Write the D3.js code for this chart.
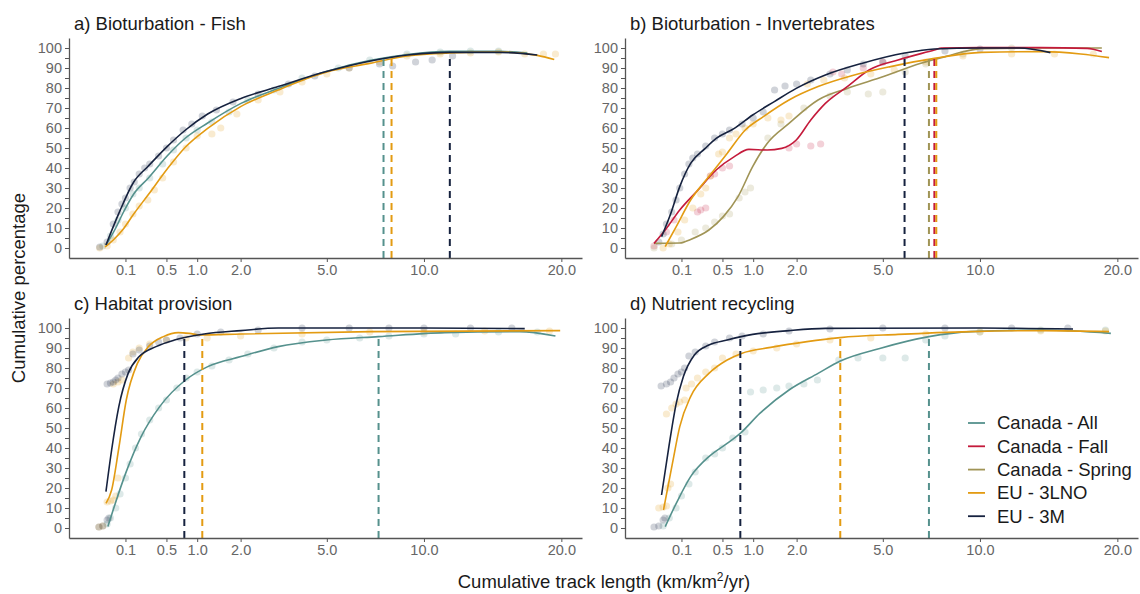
<!DOCTYPE html>
<html><head><meta charset="utf-8">
<script src="https://cdn.jsdelivr.net/npm/d3@7"></script>
<style>
body{margin:0;background:#fff}
text{font-family:"Liberation Sans",Arial,Helvetica,sans-serif}
</style>
</head><body>
<svg id="chart" width="1140" height="594"></svg>
<script>
// ---------------- DATA ----------------
const seriesNames  = ["Canada - All","Canada - Fall","Canada - Spring","EU - 3LNO","EU - 3M"];
const seriesColors = ["#55918d","#c41a3b","#a09456","#e39b12","#16223f"];
const panelTitles  = ["a) Bioturbation - Fish","b) Bioturbation - Invertebrates","c) Habitat provision","d) Nutrient recycling"];
const xTickValues  = [0.1,0.5,1,2,5,10,20];
const xTickLabels  = ["0.1","0.5","1.0","2.0","5.0","10.0","20.0"];
const yTickValues  = [0,10,20,30,40,50,60,70,80,90,100];
const yMinorTicks  = [5,15,25,35,45,55,65,75,85,95];

// smoothed curves: [track length, cumulative %]
// a) Bioturbation - Fish
const fishAll  = [[0.017,1.5],[0.05,10],[0.083,17],[0.156,27],[0.286,35],[0.509,46],[0.79,55],[1.21,62.5],[2.01,72.3],[3.14,79.8],[4.98,88.3],[7.04,93.8],[9.03,96.7],[11.6,98.3],[15.1,98.3],[17.2,97.5]];
const fish3LNO = [[0.015,0.5],[0.04,4],[0.083,9],[0.156,17],[0.29,27],[0.51,39.5],[0.79,50.5],[1.21,59.8],[2.0,70.7],[3.14,79],[5.0,88],[7.0,92.3],[9.0,96],[11.6,97.5],[15,98],[18,96.3],[19.4,94.2]];
const fish3M   = [[0.017,1.5],[0.064,17.3],[0.156,33],[0.286,41],[0.509,50.7],[0.79,59],[1.21,67],[2.01,74.8],[3.14,80.7],[4.98,88.2],[7.04,93.5],[9.03,96.5],[11.6,97.8],[15.1,97.8],[18.0,96.5]];
// b) Bioturbation - Invertebrates
const invFall   = [[0.003,2.3],[0.026,9],[0.09,19],[0.225,29],[0.419,39],[0.673,45.7],[0.92,49.3],[1.284,49],[1.62,49.8],[1.99,54],[2.4,64],[2.85,72.3],[3.6,80.7],[4.43,89],[5.67,94],[7.44,99],[7.82,100],[10,100.2],[14,100.2],[17.5,99.8],[18.7,98.2]];
const invSpring = [[0.003,2.3],[0.09,2.5],[0.163,4.3],[0.334,9],[0.513,15.7],[0.732,25.7],[0.99,40.7],[1.284,52.3],[1.8,62.3],[2.62,74],[3.6,79.8],[5.03,85.7],[6.71,92.3],[8.02,95.7],[10.1,99.7],[14,100],[18.7,100]];
const inv3LNO   = [[0.026,0.7],[0.071,10.7],[0.163,24],[0.334,35.7],[0.565,47.3],[0.855,59],[1.205,65.7],[1.8,74],[2.62,80.7],[3.86,86.5],[5.34,90.7],[7.44,94.8],[10.1,97.8],[14.2,98.2],[17,97],[19.3,95.2]];
const inv3M     = [[0.016,5.7],[0.046,17.3],[0.09,30.7],[0.163,42.3],[0.295,49.8],[0.419,54.8],[0.673,59.8],[0.99,66.5],[1.444,73.2],[1.99,79.8],[2.85,86.5],[4.14,92.3],[5.97,97.5],[7.44,99.5],[10,100],[12.5,100],[14.7,97.7]];
// c) Habitat provision
const habAll  = [[0.022,0.7],[0.048,12.3],[0.105,28.2],[0.217,45.7],[0.413,60.7],[0.791,74],[1.212,80.7],[2.01,85.7],[3.14,90.7],[4.98,94],[7.44,95.7],[11.3,97.7],[16.6,98.2],[19.5,96]];
const hab3LNO = [[0.017,12.3],[0.034,19],[0.064,40],[0.105,64],[0.185,82.3],[0.287,90.7],[0.46,95.7],[0.671,97.7],[0.856,97.3],[1.06,96.5],[2.01,97],[7.06,98.2],[19.9,98.7]];
const hab3M   = [[0.017,18.2],[0.034,39],[0.064,60.7],[0.117,77.3],[0.2,85.7],[0.369,90.7],[0.614,94],[1.137,97],[2.01,98.7],[3.14,100],[10,100],[17,99.7]];
// d) Nutrient recycling
const nutAll  = [[0.026,0.7],[0.071,12.3],[0.163,25.7],[0.334,35.7],[0.565,42.3],[0.768,47.3],[1.13,57.3],[1.8,69],[2.62,77.3],[3.35,83.5],[4.87,89.8],[7.16,95.7],[9.45,98.2],[14.2,99],[19.45,97.3]];
const nut3LNO = [[0.021,9],[0.053,32.3],[0.09,50.7],[0.163,65.7],[0.334,77.3],[0.565,84],[0.79,87.3],[1.362,90.3],[2.29,93.2],[3.35,95.2],[5.67,96.8],[9.45,98.2],[14.2,98.7],[19.3,98.2]];
const nut3M   = [[0.016,16.5],[0.0386,40.7],[0.071,62.3],[0.112,75.7],[0.193,86.5],[0.334,91.5],[0.565,94],[0.99,96.8],[1.8,98.7],[2.85,99.8],[10,100],[16.4,99.5]];

// raw cumulative points (faint)
const fishAllPts  = [[0.01,1],[0.03,6],[0.06,14],[0.1,20],[0.15,27],[0.2,30],[0.3,35],[0.45,42],[0.6,49],[0.8,55],[1.0,59],[1.3,63],[1.7,68],[2.2,74],[3,79],[4,85],[5.5,90],[7,94],[9,97],[11,98],[13,98.5],[15,98.5]];
const fish3LNOPts = [[0.005,0],[0.02,1],[0.04,4],[0.07,8],[0.1,12],[0.15,17],[0.2,21],[0.28,24],[0.35,29],[0.45,35],[0.6,43],[0.8,50],[1.0,56],[1.3,57],[1.5,60],[1.9,67],[2.5,74],[3.2,78],[4,83],[5,87],[6,90],[7.5,93],[9,96],[11,97],[13,97.5],[15,98],[17,97],[18.5,97],[19.5,97]];
const fish3MPts   = [[0.005,0.5],[0.02,3],[0.04,12],[0.06,18],[0.08,22],[0.1,25],[0.13,30],[0.16,33],[0.2,37],[0.25,40],[0.3,42],[0.4,46],[0.5,50],[0.6,54],[0.75,59],[0.9,62],[1.1,66],[1.4,69],[1.8,73],[2.5,77],[3.5,82],[4.5,86],[6,90],[7.5,92],[8.2,91],[9.5,93],[10.5,94],[11.8,96]];
const invFallPts   = [[0.003,1],[0.03,8],[0.06,14],[0.22,18],[0.25,19],[0.3,20],[0.35,36],[0.4,37],[0.5,40],[0.6,41],[1.8,50],[2.0,52],[2.4,51],[2.7,52],[3.1,88],[3.4,87],[4.2,90],[5,93]];
const invSpringPts = [[0.003,0],[0.05,2],[0.1,4],[0.2,8],[0.3,10],[0.4,13],[0.5,16],[0.6,17],[0.75,25],[0.85,28],[0.95,30],[1.3,55],[1.6,62],[2.2,70],[3,76],[3.6,78],[4.4,77],[5,78],[6,88],[7,92],[9,97],[12,100]];
const inv3LNOPts   = [[0.02,0],[0.04,2],[0.08,8],[0.12,14],[0.18,20],[0.25,27],[0.3,30],[0.35,36],[0.45,47],[0.5,48],[0.6,55],[0.7,57],[0.85,60],[1.0,62],[1.3,65],[1.6,64],[1.8,66],[2.3,82],[2.8,84],[3.5,85],[4.5,87],[5.5,89],[7,93],[9,96],[12,97],[15,97],[18,97]];
const inv3MPts     = [[0.01,3],[0.02,7],[0.03,12],[0.05,18],[0.07,24],[0.09,30],[0.12,37],[0.15,42],[0.18,45],[0.22,47],[0.3,51],[0.4,55],[0.5,57],[0.6,59],[0.8,62],[1.0,65],[1.2,68],[1.45,79],[1.7,81],[2.0,82],[2.4,84],[3.0,87],[3.6,89],[4.2,92],[5,93],[6,96],[8,98.5],[10,99.5]];
const habAllPts  = [[0.02,2],[0.03,5],[0.05,10],[0.07,17],[0.1,25],[0.13,32],[0.17,40],[0.22,47],[0.3,54],[0.4,60],[0.5,64],[0.65,70],[0.8,75],[1.0,78],[1.3,81],[1.7,84],[2.2,87],[3,90],[4,93],[5,94],[6.5,95],[8,96],[10,97],[12,97],[15,98],[18,98]];
const hab3LNOPts = [[0.004,0.5],[0.01,1],[0.02,13],[0.03,13.5],[0.04,14],[0.05,16],[0.06,25],[0.04,72],[0.06,73],[0.08,74],[0.12,85],[0.15,88],[0.2,90],[0.3,92],[0.5,94],[0.8,95],[1.2,95],[2,96],[4,97],[7,98],[10,98],[14,98.5],[19,98.5]];
const hab3MPts   = [[0.004,0.5],[0.01,1],[0.02,4],[0.025,5],[0.02,72],[0.03,72.5],[0.04,73],[0.05,74],[0.06,75],[0.08,77],[0.1,78],[0.12,79],[0.15,87],[0.2,89],[0.3,91],[0.4,93],[0.5,94],[0.7,95],[1,97],[1.5,98],[2.5,99],[4,100],[6,100],[8,100],[10,100],[13,100],[16,100]];
const nutAllPts  = [[0.02,1],[0.04,5],[0.07,10],[0.1,16],[0.15,22],[0.2,28],[0.3,35],[0.4,37],[0.5,40],[0.65,45],[0.85,48],[0.95,68],[1.2,69],[1.5,70],[1.8,71],[2.2,72],[2.6,74],[3.3,84],[4,85],[5,85],[6,85],[7,94],[8,96],[10,98],[14,99],[19,99]];
const nut3LNOPts = [[0.01,10],[0.02,10.5],[0.03,11],[0.035,20],[0.045,22],[0.03,57],[0.05,60],[0.07,62],[0.09,63],[0.12,64],[0.13,70],[0.17,72],[0.22,75],[0.3,78],[0.4,80],[0.5,85],[0.7,87],[1,88.5],[1.5,90],[2,92],[3,94],[4.5,95],[7,97],[10,98],[14,98.5],[19,98.5]];
const nut3MPts   = [[0.003,0.5],[0.01,1],[0.02,4],[0.025,5],[0.015,71],[0.03,72],[0.045,73],[0.06,75],[0.08,77],[0.1,78],[0.12,80],[0.15,86],[0.2,88],[0.3,91],[0.4,93],[0.6,95],[0.8,96],[1.2,97],[1.8,98.5],[3,99.5],[5,100],[8,100],[12,100],[16,100]];

// 95% thresholds (dashed lines)
const fishThreshold = {"Canada - All":7.71,"EU - 3LNO":8.14,"EU - 3M":11.62};
const invThreshold  = {"EU - 3M":5.97,"Canada - Spring":7.16,"Canada - Fall":7.44,"EU - 3LNO":7.54};
const habThreshold  = {"EU - 3M":0.77,"EU - 3LNO":1.10,"Canada - All":7.45};
const nutThreshold  = {"EU - 3M":0.77,"EU - 3LNO":3.35,"Canada - All":7.16};
const thresholdLevel = 95;

// ---------------- BUILD ----------------
const panels = [
  {title:panelTitles[0], col:0,row:0,
   curves:{"Canada - All":fishAll,"EU - 3LNO":fish3LNO,"EU - 3M":fish3M},
   points:{"Canada - All":fishAllPts,"EU - 3LNO":fish3LNOPts,"EU - 3M":fish3MPts},
   thr:fishThreshold},
  {title:panelTitles[1], col:1,row:0,
   curves:{"Canada - Spring":invSpring,"Canada - Fall":invFall,"EU - 3LNO":inv3LNO,"EU - 3M":inv3M},
   points:{"Canada - Spring":invSpringPts,"Canada - Fall":invFallPts,"EU - 3LNO":inv3LNOPts,"EU - 3M":inv3MPts},
   thr:invThreshold},
  {title:panelTitles[2], col:0,row:1,
   curves:{"Canada - All":habAll,"EU - 3LNO":hab3LNO,"EU - 3M":hab3M},
   points:{"Canada - All":habAllPts,"EU - 3LNO":hab3LNOPts,"EU - 3M":hab3MPts},
   thr:habThreshold},
  {title:panelTitles[3], col:1,row:1,
   curves:{"Canada - All":nutAll,"EU - 3LNO":nut3LNO,"EU - 3M":nut3M},
   points:{"Canada - All":nutAllPts,"EU - 3LNO":nut3LNOPts,"EU - 3M":nut3MPts},
   thr:nutThreshold, legend:true}
];

const color = d3.scaleOrdinal().domain(seriesNames).range(seriesColors);
const svg = d3.select("#chart");
const colX = [[69,582],[625,1138]];
const rowY = [[258,38],[538,318]];
const AXIS = "#555555", TICKTXT = "#666666";

panels.forEach(p => {
  const x = d3.scaleSqrt().domain([-0.0493, 21.8]).range(colX[p.col]);
  const y = d3.scaleLinear().domain([-5,105]).range(rowY[p.row]);
  const g = svg.append("g");

  // points
  Object.entries(p.points).forEach(([name, pts]) => {
    g.append("g").selectAll("circle").data(pts).enter().append("circle")
      .attr("cx", d => x(d[0])).attr("cy", d => y(d[1])).attr("r", 3.6)
      .attr("fill", color(name)).attr("fill-opacity", 0.2);
  });

  // curves
  const line = d3.line().x(d => x(d[0])).y(d => y(d[1])).curve(d3.curveMonotoneX);
  Object.entries(p.curves).forEach(([name, c]) => {
    g.append("path").datum(c).attr("d", line).attr("fill","none")
      .attr("stroke", color(name)).attr("stroke-width", 1.6).attr("stroke-linejoin","round");
  });

  // thresholds
  Object.entries(p.thr).forEach(([name, v]) => {
    g.append("line").attr("x1", x(v)).attr("x2", x(v))
      .attr("y1", y.range()[0]).attr("y2", y(thresholdLevel))
      .attr("stroke", color(name)).attr("stroke-width", 2).attr("stroke-dasharray","7,5");
  });

  // axes
  const xa = d3.axisBottom(x).tickValues(xTickValues)
      .tickFormat((d,i) => xTickLabels[i]).tickSize(4).tickSizeOuter(0).tickPadding(3);
  const gx = g.append("g").attr("transform", `translate(0,${y.range()[0]})`).call(xa);
  const ya = d3.axisLeft(y).tickValues(yTickValues.concat(yMinorTicks).sort((a,b)=>a-b))
      .tickFormat(d => yTickValues.includes(d) ? d : "").tickSize(4).tickSizeOuter(0).tickPadding(3);
  const gy = g.append("g").attr("transform", `translate(${x.range()[0]},0)`).call(ya);
  [gx, gy].forEach(ax => {
    ax.select(".domain").attr("stroke", AXIS).attr("stroke-width", 1.3);
    ax.selectAll(".tick line").attr("stroke", AXIS).attr("stroke-width", 1);
    ax.selectAll(".tick text").attr("fill", TICKTXT).style("font-size","14.5px")
      .style("font-family",'"Liberation Sans",Arial,sans-serif');
  });

  // title
  svg.append("text").attr("x", x.range()[0] + 5).attr("y", y.range()[1] - 8)
    .attr("fill","#1a1a1a").style("font-size","18.5px").text(p.title);

  // legend
  if (p.legend) {
    const lg = svg.append("g");
    seriesNames.forEach((name, i) => {
      const cy = 423 + i * 23.3;
      lg.append("line").attr("x1", 968).attr("x2", 985).attr("y1", cy).attr("y2", cy)
        .attr("stroke", color(name)).attr("stroke-width", 1.8);
      lg.append("text").attr("x", 997).attr("y", cy).attr("dy","0.35em")
        .attr("fill","#1a1a1a").style("font-size","18.5px").text(name);
    });
  }
});

// axis titles
const xt = svg.append("text").attr("x", 604).attr("y", 588).attr("text-anchor","middle")
  .attr("fill","#1a1a1a").style("font-size","18.5px");
xt.append("tspan").text("Cumulative track length (km/km");
xt.append("tspan").attr("dy", -7).style("font-size","12px").text("2");
xt.append("tspan").attr("dy", 7).text("/yr)");

svg.append("text").attr("transform","translate(25,288) rotate(-90)").attr("text-anchor","middle")
  .attr("fill","#1a1a1a").style("font-size","18.5px").text("Cumulative percentage");
</script>
</body></html>
